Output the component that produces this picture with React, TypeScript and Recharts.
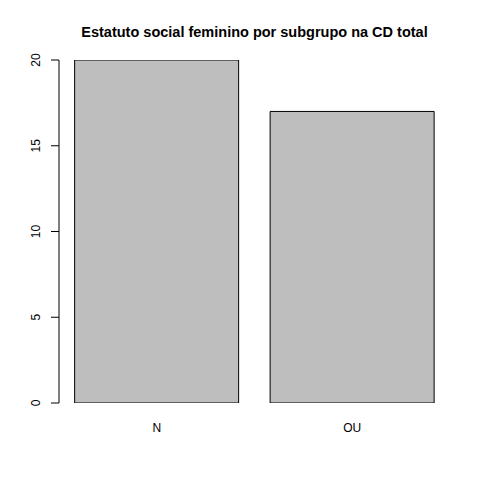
import React from "react";
import { BarChart, Bar, XAxis, YAxis } from "recharts";

const categories = ["N", "OU"];
const counts = [20, 17];
const yTicks = [0, 5, 10, 15, 20];
const title = "Estatuto social feminino por subgrupo na CD total";

const data = categories.map((name, i) => ({ name, value: counts[i] }));

const FONT = "'Liberation Sans', Arial, Helvetica, sans-serif";

function YTick(props: any) {
  const { y, payload } = props;
  return (
    <text
      x={36}
      y={y}
      transform={`rotate(-90, 36, ${y})`}
      textAnchor="middle"
      dominantBaseline="central"
      fontFamily={FONT}
      fontSize={12}
      fill="#000"
    >
      {payload.value}
    </text>
  );
}

function XTick(props: any) {
  const { x, payload } = props;
  return (
    <text
      x={x}
      y={428}
      textAnchor="middle"
      dominantBaseline="central"
      fontFamily={FONT}
      fontSize={12}
      fill="#000"
    >
      {payload.value}
    </text>
  );
}

export default function App() {
  return (
    <div style={{ position: "absolute", left: 0, top: 0, width: 480, height: 480, background: "#fff" }}>
      <div
        style={{
          position: "absolute",
          left: 59,
          width: 391,
          top: 23,
          textAlign: "center",
          fontFamily: FONT,
          fontWeight: "bold",
          fontSize: 14.5,
          lineHeight: "18px",
          color: "#000",
        }}
      >
        {title}
      </div>
      <BarChart
        width={480}
        height={480}
        data={data}
        margin={{ top: 60, right: 30, bottom: 47, left: 19 }}
        barCategoryGap="8%"
      >
        <XAxis dataKey="name" axisLine={false} tickLine={false} height={30} tick={<XTick />} />
        <YAxis
          width={40}
          domain={[0, 20]}
          ticks={yTicks}
          allowDataOverflow
          tickSize={8}
          axisLine={{ stroke: "#000" }}
          tickLine={{ stroke: "#000" }}
          tick={<YTick />}
        />
        <Bar dataKey="value" fill="#bebebe" stroke="#000" strokeWidth={1} isAnimationActive={false} />
      </BarChart>
    </div>
  );
}
